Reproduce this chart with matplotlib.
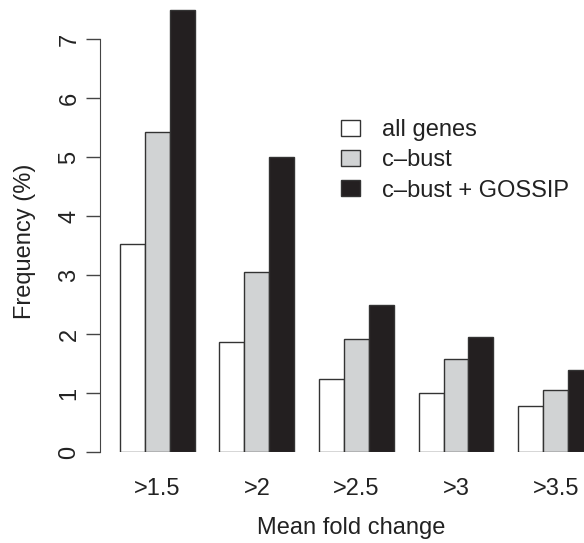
import numpy as np
import matplotlib
matplotlib.use("Agg")
import matplotlib.pyplot as plt
from matplotlib.patches import Patch

plt.rcParams['font.family'] = ['Liberation Sans', 'DejaVu Sans']

# Valores
categorias = ['>1.5', '>2', '>2.5', '>3', '>3.5']
series = ['all genes', 'c\u2013bust', 'c\u2013bust + GOSSIP']
all_genes = [3.52, 1.86, 1.24, 1.00, 0.78]
cbust = [5.42, 3.06, 1.92, 1.57, 1.05]
cbust_gossip = [7.50, 5.00, 2.50, 1.95, 1.39]
cores = ['white', '#d1d3d4', '#231f20']

W, H = 584, 543
FS = 17
fig = plt.figure(figsize=(W / 100, H / 100), dpi=100)
# eixo: x=0 no pixel 95, 24.9 px por unidade; y=0 no pixel 452, 58.96 px por unidade
ax = fig.add_axes([100 / W, 91 / H, 484 / W, 452 / H])
ax.set_xlim((100 - 95) / 24.9, (584 - 95) / 24.9)
ax.set_ylim(0, 452 / 58.96)

valores = [all_genes, cbust, cbust_gossip]
x0 = 1 + 4 * np.arange(len(categorias))
for s, (vals, cor) in enumerate(zip(valores, cores)):
    ax.bar(x0 + s, vals, width=1, align='edge', color=cor,
           edgecolor='#333333', linewidth=1.0, label=series[s])

for sp in ['top', 'right', 'bottom']:
    ax.spines[sp].set_visible(False)
ax.spines['left'].set_bounds(0, 7)
ax.spines['left'].set_color('#444444')
ax.set_yticks(range(0, 8))
ax.tick_params(axis='y', length=10, width=1, color='#444444', pad=4,
               labelsize=FS, labelcolor='#222222')
for lab in ax.get_yticklabels():
    lab.set_rotation(90)
    lab.set_va('center')

ax.set_xticks(x0 + 1.5)
ax.set_xticklabels(categorias)
ax.tick_params(axis='x', length=0, pad=19, labelsize=FS, labelcolor='#222222')

fig.text(25 / W, 1 - 241 / H, 'Frequency (%)', rotation=90, ha='center',
         va='center', fontsize=FS, color='#222222')
fig.text(351 / W, 1 - 528 / H, 'Mean fold change', ha='center', va='center',
         fontsize=FS, color='#222222')

handles = [Patch(facecolor=c, edgecolor='#333333', linewidth=1.0) for c in cores]
leg = fig.legend(handles, series, loc='upper left',
                 bbox_to_anchor=(341 / W, 1 - 119 / H),
                 frameon=False, fontsize=FS, handlelength=0.8, handleheight=0.64,
                 handletextpad=0.93, labelspacing=0.35, borderpad=0, borderaxespad=0)
for t in leg.get_texts():
    t.set_color('#222222')

fig.savefig('out.png', dpi=100)
